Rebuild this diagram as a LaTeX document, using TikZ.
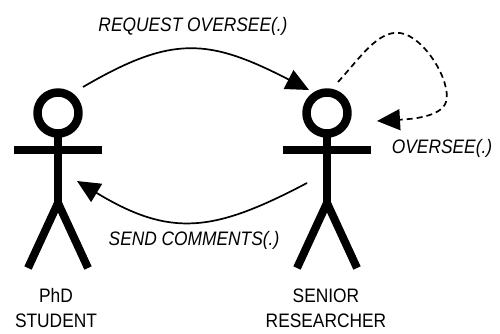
\documentclass[tikz,border=0pt]{standalone}
\usepackage{fontspec}
\setmainfont{Liberation Sans}[FakeStretch=0.89]
\usetikzlibrary{arrows.meta}
\begin{document}
\begin{tikzpicture}[x=1pt,y=-1pt,line join=round,font=\fontsize{19.5}{25}\selectfont,
	actor/.pic={
		% dau, tay, than, chan
		\draw[line width=8.5pt] (0,0) circle (20.5);
		\draw[line width=8pt] (-44,37)-- (44,37);
		\draw[line width=8pt] (0,20)-- (0,90);
		\draw[line width=8pt,line join=miter] (-30,155)-- (0,90)-- (30,155);
	},
	msg/.style={line width=1.7pt,-{Triangle[length=23pt,width=21pt]}},
	lbl/.style={inner sep=0pt,anchor=base,font=\fontsize{19.5}{25}\selectfont\itshape}]
	\useasboundingbox (0,0) rectangle (500,334);
	% 2 nguoi
	\coordinate (stu) at (58,113);
	\coordinate (sen) at (327,113);
	\pic at (stu) {actor};
	\pic at (sen) {actor};
	\node[inner sep=0pt,anchor=base,align=center] (stuname) at (56,327) {PhD\\STUDENT};
	\node[inner sep=0pt,anchor=base,align=center] (senname) at (326,327) {SENIOR\\RESEARCHER};
	% cac diem dau mui ten
	\coordinate (reqA) at (83,87);
	\coordinate (reqB) at (309,90);
	\coordinate (sendA) at (307,183);
	\coordinate (sendB) at (77,181);
	\coordinate (ovA) at (338,82);
	\coordinate (ovB) at (377,121);
	% cac mui ten
	\draw[msg] (reqA) .. controls (172,35) and (208,38) .. (reqB);
	\draw[msg] (sendA) .. controls (214,232) and (171,238) .. (sendB);
	\draw[msg,dash pattern=on 6pt off 4pt] (ovA) .. controls (360,58) and (378,30) .. (400,33)
		.. controls (424,36) and (452,82) .. (446,102)
		.. controls (441,117) and (412,119) .. (ovB);
	% nhan
	\node[lbl] (req) at (193,32) {REQUEST OVERSEE(.)};
	\node[lbl] (send) at (194,245) {SEND COMMENTS(.)};
	\node[lbl] (ov) at (442,153) {OVERSEE(.)};
\end{tikzpicture}
\end{document}
